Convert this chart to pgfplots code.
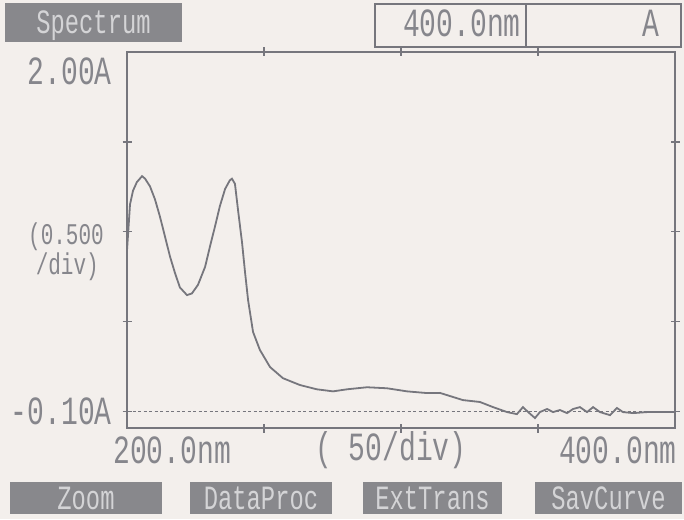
\documentclass[border=0pt]{standalone}
\usepackage{fontspec}
\usepackage{pgfplots}
\pgfplotsset{compat=1.18}
\newfontfamily\disp[FakeStretch=0.7]{Liberation Mono}
\definecolor{bgcol}{HTML}{F3EFEC}
\definecolor{linecol}{HTML}{76767D}
\definecolor{txtcol}{HTML}{86868C}
\definecolor{btnfill}{HTML}{88888C}
\definecolor{btntxt}{HTML}{D4D4D6}
\newcommand{\dfont}{\disp\fontsize{40}{40}\selectfont}
\newcommand{\sfont}{\disp\fontsize{34}{34}\selectfont}
\newcommand{\tfont}{\disp\fontsize{30}{30}\selectfont}
\begin{document}
\begin{tikzpicture}[x=1pt,y=1pt]
\fill[bgcol] (0,0) rectangle (684,519);
\useasboundingbox (0,0) rectangle (684,519);
\begin{axis}[at={(127pt,91pt)}, anchor=south west, scale only axis,
  width=548pt, height=376pt,
  xmin=200, xmax=400, ymin=-0.196, ymax=2.0,
  xtick={250,300,350}, ytick={-0.1,0.425,0.95,1.475},
  xticklabels={}, yticklabels={},
  tick align=center, major tick length=9pt,
  axis line style={draw=linecol, line width=1.6pt},
  every tick/.style={draw=linecol, line width=1.4pt},
  clip=false]
\addplot[linecol, line width=1.2pt, dash pattern=on 3pt off 2.5pt] coordinates {(200,-0.1) (400,-0.1)};
\addplot[linecol, line width=1.8pt] coordinates {
(200.0,0.84) (201.1,1.11) (202.2,1.19) (203.6,1.24) (205.5,1.275) (206.6,1.26)
(208.4,1.215) (210.2,1.14) (212.0,1.04) (213.9,0.92) (215.7,0.805) (217.5,0.71)
(219.3,0.625) (221.9,0.58) (223.7,0.59) (225.9,0.64) (228.5,0.745) (230.3,0.865)
(232.1,0.98) (233.9,1.10) (235.8,1.20) (237.5,1.25) (238.3,1.26) (239.4,1.23)
(240.5,1.08) (242.0,0.885) (243.1,0.71) (244.2,0.55) (246.0,0.365) (248.5,0.26)
(252.2,0.16) (256.9,0.095) (263.1,0.055) (269.3,0.03) (275.2,0.018) (280.3,0.03)
(287.6,0.042) (294.9,0.036) (302.2,0.018) (309.5,0.008) (314.2,0.009) (319.0,-0.015)
(322.6,-0.033) (328.8,-0.044) (333.6,-0.074) (338.7,-0.103) (342.3,-0.115) (344.5,-0.074)
(346.4,-0.103) (348.9,-0.138) (350.7,-0.103) (353.3,-0.085) (355.5,-0.103) (358.0,-0.091)
(360.6,-0.109) (362.8,-0.085) (365.3,-0.074) (367.9,-0.103) (370.1,-0.074) (372.6,-0.103)
(376.3,-0.121) (378.8,-0.079) (381.0,-0.103) (384.7,-0.109) (389.8,-0.103) (398.2,-0.103)
(400.0,-0.103)};
\end{axis}
% axis texts
\node[anchor=east, text=txtcol, inner sep=0pt, font=\dfont] at (112,448) {2.00A};
\node[anchor=east, text=txtcol, inner sep=0pt, font=\dfont] at (112,108) {-0.10A};
\node[anchor=base east, text=txtcol, inner sep=0pt, font=\tfont] at (104,274) {(0.500};
\node[anchor=base east, text=txtcol, inner sep=0pt, font=\tfont] at (99,244) {/div)};
\node[anchor=west, text=txtcol, inner sep=0pt, font=\dfont] at (113,69) {200.0nm};
\node[anchor=west, text=txtcol, inner sep=0pt, font=\dfont] at (315,69) {( 50/div)};
\node[anchor=east, text=txtcol, inner sep=0pt, font=\dfont] at (677,69) {400.0nm};
% top header
\fill[btnfill] (5,477) rectangle (182,516);
\node[anchor=base, text=btntxt, inner sep=0pt, font=\sfont] at (93.5,485) {Spectrum};
\draw[linecol, line width=1.5pt] (375,472) rectangle (681,515);
\draw[linecol, line width=1.5pt] (526,472) -- (526,515);
\node[anchor=base east, text=txtcol, inner sep=0pt, font=\dfont] at (521,482) {400.0nm};
\node[anchor=base, text=txtcol, inner sep=0pt, font=\dfont] at (651,482) {A};
% bottom buttons
\fill[btnfill] (10,5) rectangle (162,37);
\node[anchor=base, text=btntxt, inner sep=0pt, font=\sfont] at (86,10) {Zoom};
\fill[btnfill] (190,5) rectangle (332,37);
\node[anchor=base, text=btntxt, inner sep=0pt, font=\sfont] at (261,10) {DataProc};
\fill[btnfill] (363,5) rectangle (502,37);
\node[anchor=base, text=btntxt, inner sep=0pt, font=\sfont] at (432.5,10) {ExtTrans};
\fill[btnfill] (535,5) rectangle (682,37);
\node[anchor=base, text=btntxt, inner sep=0pt, font=\sfont] at (608.5,10) {SavCurve};
\end{tikzpicture}
\end{document}
